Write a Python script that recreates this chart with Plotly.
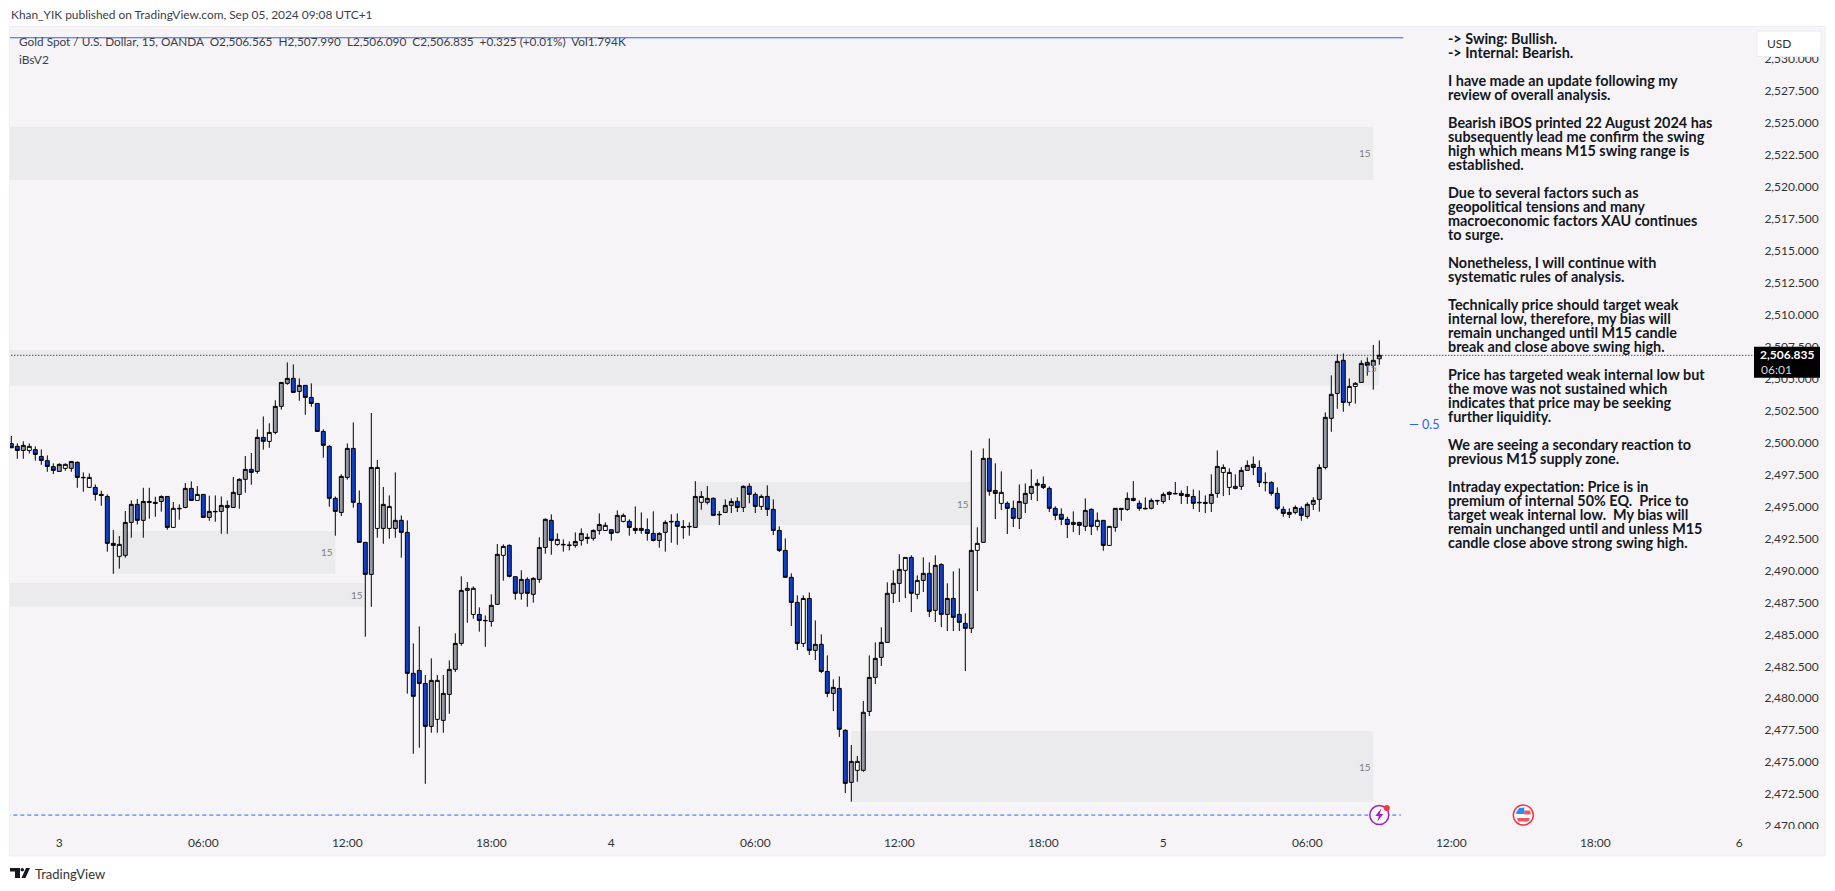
import plotly.graph_objs as go

# XAU/USD 15 min candles
highs = [
    2500.52,2499.94,2500.10,2499.94,2499.71,2499.47,2499.00,2498.38,2498.38,2498.38,
    2498.56,2498.53,2497.67,2497.59,2496.73,2496.24,2495.95,2493.16,2492.69,2494.65,
    2495.48,2495.59,2496.47,2496.47,2495.77,2495.87,2495.82,2495.35,2495.17,2496.84,
    2496.97,2496.60,2495.98,2495.85,2495.87,2495.79,2495.48,2497.31,2497.20,2498.95,
    2499.19,2501.04,2502.05,2501.51,2503.31,2504.71,2506.28,2506.12,2505.03,2504.48,
    2504.64,2503.07,2501.04,2499.79,2495.79,2497.52,2499.94,2501.58,2496.26,2492.20,
    2502.32,2498.64,2496.53,2495.87,2497.67,2494.31,2493.92,2484.29,2485.62,2481.82,
    2483.12,2481.82,2481.82,2482.96,2485.08,2489.54,2489.09,2488.75,2487.11,2486.48,
    2488.13,2492.07,2492.04,2492.04,2489.54,2490.01,2489.46,2489.46,2492.59,2494.07,
    2494.39,2492.90,2492.43,2492.27,2492.98,2493.29,2492.90,2493.21,2494.46,2493.76,
    2493.21,2494.70,2494.46,2494.00,2495.01,2494.54,2494.07,2494.62,2492.98,2493.92,
    2494.39,2494.46,2493.94,2493.76,2496.99,2496.21,2496.60,2495.72,2494.65,2495.56,
    2495.64,2495.72,2496.66,2496.81,2496.11,2495.95,2496.66,2495.56,2493.45,2492.51,
    2489.77,2488.05,2488.05,2488.28,2486.09,2485.00,2483.35,2481.48,2481.71,2477.57,
    2476.34,2475.48,2479.78,2483.35,2484.37,2485.55,2489.07,2490.01,2491.26,2491.02,
    2491.18,2489.61,2491.02,2490.63,2491.18,2490.55,2488.99,2489.93,2490.16,2486.64,
    2499.39,2493.37,2499.55,2500.33,2498.38,2497.75,2495.40,2495.48,2496.73,2496.81,
    2497.91,2497.13,2497.36,2496.58,2495.01,2494.86,2494.20,2494.62,2493.81,2495.64,
    2494.86,2494.54,2493.92,2493.45,2494.86,2494.86,2496.11,2496.99,2495.48,2495.72,
    2495.64,2495.48,2496.11,2496.19,2496.92,2496.26,2496.60,2496.34,2496.26,2495.87,
    2497.52,2499.39,2498.30,2497.99,2497.52,2498.09,2498.61,2498.92,2498.61,2497.67,
    2496.97,2496.50,2495.01,2494.86,2495.09,2495.01,2495.33,2495.72,2498.30,2502.37,
    2505.26,2506.91,2506.98,2505.03,2504.74,2506.44,2506.67,2507.64,2507.99,
]
body_tops = [
    2499.92,2499.71,2499.79,2499.71,2499.45,2498.92,2498.59,2498.12,2498.30,2498.30,
    2498.53,2498.46,2497.28,2497.28,2496.50,2495.95,2495.79,2492.12,2492.04,2493.76,
    2495.17,2495.17,2495.40,2495.40,2495.33,2495.79,2495.79,2494.86,2494.86,2496.42,
    2496.42,2495.95,2495.95,2494.62,2494.62,2495.09,2495.09,2496.11,2497.13,2497.91,
    2497.91,2500.41,2500.41,2500.80,2502.84,2504.71,2505.03,2505.03,2504.48,2504.48,
    2503.54,2503.07,2500.88,2499.71,2495.64,2497.36,2499.55,2499.55,2495.25,2492.20,
    2498.06,2498.06,2495.17,2495.01,2493.92,2493.92,2492.98,2481.95,2482.18,2481.16,
    2481.40,2481.40,2480.38,2482.26,2484.29,2488.44,2488.60,2488.60,2486.56,2486.09,
    2487.27,2491.26,2491.88,2491.96,2489.51,2489.30,2489.30,2489.38,2491.80,2494.00,
    2493.92,2492.43,2492.04,2491.99,2492.27,2492.90,2492.59,2493.13,2493.60,2493.53,
    2493.19,2494.31,2494.31,2493.84,2493.29,2493.29,2493.19,2492.90,2492.90,2493.76,
    2493.84,2493.84,2493.42,2493.45,2495.79,2495.79,2495.64,2495.64,2494.39,2495.09,
    2495.40,2495.40,2496.58,2496.58,2495.95,2495.79,2495.79,2494.78,2493.13,2491.57,
    2489.46,2487.50,2487.81,2487.81,2484.22,2484.22,2482.10,2480.85,2480.77,2477.49,
    2475.06,2475.06,2478.90,2481.63,2483.12,2484.37,2488.21,2488.99,2490.08,2491.02,
    2491.02,2489.22,2489.77,2489.77,2490.40,2490.47,2487.81,2487.81,2486.56,2485.86,
    2491.57,2492.12,2498.77,2498.77,2496.26,2496.11,2495.25,2494.86,2495.40,2496.03,
    2496.58,2496.81,2496.73,2496.42,2494.86,2494.39,2494.00,2493.76,2493.76,2494.70,
    2494.78,2493.92,2493.92,2493.45,2494.86,2494.86,2495.64,2495.64,2495.25,2494.86,
    2495.48,2495.48,2495.95,2496.11,2496.03,2496.03,2495.95,2495.79,2495.33,2495.33,
    2495.95,2498.14,2498.06,2497.67,2496.58,2497.83,2498.22,2498.30,2498.06,2496.89,
    2496.89,2496.03,2494.78,2494.54,2494.93,2494.86,2495.17,2495.48,2498.06,2501.98,
    2503.78,2506.36,2506.44,2504.40,2504.64,2506.20,2506.28,2506.44,2506.835,
]
body_bottoms = [
    2499.60,2499.39,2499.39,2499.39,2499.08,2498.61,2498.14,2497.83,2497.75,2497.99,
    2497.99,2497.28,2497.26,2496.50,2495.95,2495.87,2492.12,2491.96,2491.10,2491.18,
    2493.76,2493.92,2493.92,2495.33,2495.25,2495.40,2493.37,2493.37,2494.83,2494.93,
    2495.48,2495.48,2494.15,2494.15,2494.60,2494.62,2494.93,2494.93,2495.95,2497.13,
    2497.67,2497.75,2500.10,2500.10,2500.80,2502.84,2504.64,2503.93,2504.01,2503.54,
    2503.07,2500.88,2499.79,2495.64,2494.62,2494.54,2497.28,2495.33,2492.20,2489.69,
    2489.69,2493.29,2493.29,2493.29,2493.29,2492.98,2481.95,2480.15,2481.16,2477.80,
    2477.80,2478.35,2478.27,2480.30,2482.26,2484.29,2488.44,2486.56,2486.09,2486.07,
    2486.01,2487.35,2491.18,2489.54,2488.21,2488.21,2488.21,2488.13,2489.30,2491.80,
    2492.35,2492.04,2492.01,2491.96,2491.96,2492.35,2492.51,2492.51,2493.13,2493.13,
    2492.90,2492.98,2493.84,2493.37,2493.13,2493.13,2492.90,2492.35,2492.35,2492.98,
    2493.81,2493.45,2493.37,2493.42,2493.37,2495.33,2495.33,2494.31,2494.36,2494.54,
    2495.09,2494.93,2494.93,2495.95,2495.01,2495.01,2494.78,2493.13,2491.57,2489.46,
    2487.50,2484.29,2484.29,2483.75,2483.75,2482.10,2480.38,2480.38,2477.57,2473.34,
    2473.42,2474.36,2474.36,2478.97,2481.63,2483.20,2484.37,2488.21,2488.99,2490.01,
    2488.21,2488.13,2489.22,2486.80,2486.88,2486.56,2486.56,2486.33,2485.94,2485.47,
    2485.47,2491.57,2492.20,2496.19,2496.03,2495.25,2494.86,2494.07,2494.07,2495.25,
    2496.03,2496.66,2496.50,2494.86,2494.31,2494.00,2493.60,2493.60,2493.53,2493.45,
    2493.45,2493.45,2491.96,2491.96,2493.37,2494.78,2494.78,2495.48,2494.86,2494.83,
    2494.86,2495.45,2495.40,2495.95,2496.00,2495.87,2495.79,2495.25,2495.30,2495.25,
    2495.25,2496.03,2497.67,2496.50,2496.42,2496.58,2497.83,2498.06,2496.89,2496.87,
    2496.03,2494.86,2494.46,2494.39,2494.54,2494.31,2494.23,2495.17,2495.56,2498.06,
    2501.90,2503.85,2503.15,2503.15,2504.40,2504.71,2506.04,2506.04,2506.565,
]
lows = [
    2499.60,2498.74,2498.74,2499.16,2498.59,2498.27,2497.72,2497.54,2497.72,2497.80,
    2497.72,2496.47,2496.16,2496.47,2495.46,2495.06,2491.47,2489.74,2490.14,2491.00,
    2492.56,2493.60,2492.56,2494.05,2494.20,2494.60,2493.19,2493.34,2493.97,2494.86,
    2495.46,2495.46,2494.13,2493.89,2493.81,2492.87,2492.87,2494.91,2494.83,2496.08,
    2496.71,2497.57,2499.45,2499.60,2500.65,2502.58,2504.53,2503.93,2503.28,2502.18,
    2502.81,2500.85,2498.82,2494.99,2492.72,2494.26,2497.10,2494.91,2492.20,2484.82,
    2487.16,2492.56,2492.09,2492.48,2492.56,2491.00,2480.36,2475.66,2476.13,2473.31,
    2477.30,2477.30,2477.30,2478.79,2482.05,2484.11,2485.91,2486.22,2485.21,2484.03,
    2485.60,2487.32,2489.20,2489.46,2487.71,2487.71,2487.16,2487.48,2489.04,2491.31,
    2491.23,2491.94,2491.47,2491.57,2491.78,2491.94,2492.09,2492.33,2492.80,2493.11,
    2492.33,2492.90,2493.76,2492.72,2492.87,2492.87,2492.33,2492.27,2491.78,2491.47,
    2492.17,2492.01,2492.48,2492.72,2493.35,2494.75,2495.17,2494.28,2493.55,2494.52,
    2494.49,2494.57,2494.57,2495.25,2494.49,2494.73,2494.26,2492.77,2491.44,2489.46,
    2485.65,2483.77,2484.01,2483.38,2482.99,2481.97,2480.09,2479.00,2476.97,2472.58,
    2471.91,2473.47,2474.25,2478.61,2481.11,2482.52,2484.35,2487.45,2487.53,2487.84,
    2486.75,2487.76,2488.31,2486.35,2485.96,2485.57,2485.26,2485.26,2485.26,2482.13,
    2485.10,2488.39,2492.17,2495.85,2494.02,2494.73,2492.85,2493.40,2493.24,2494.49,
    2495.51,2495.43,2496.37,2494.57,2493.94,2493.55,2492.53,2493.00,2492.77,2493.08,
    2492.77,2493.13,2491.54,2491.94,2493.03,2493.89,2494.67,2495.40,2494.67,2494.78,
    2494.78,2495.12,2495.22,2495.51,2496.00,2495.20,2495.20,2494.80,2494.57,2494.49,
    2494.57,2495.69,2495.82,2495.90,2496.34,2496.29,2497.80,2497.46,2496.53,2496.19,
    2495.85,2494.70,2494.20,2494.10,2494.39,2493.89,2494.05,2494.73,2494.60,2497.91,
    2500.85,2502.65,2502.42,2502.89,2503.05,2504.69,2505.24,2504.14,2506.09,
]
# u = grey up bar, d = blue down bar, w = white bar
kinds = (
    "dduwdddduw" "uddwddddwu" "ududdudwdu" "dwduduwuuu" "dudwuuudud"
    "ddddduuddd" "uwuwuddddd" "uwuuuuwwdd" "uuwdduduuu" "dwdduuduuw"
    "duwddudduu" "dddduwuddu" "ududdwdddd" "ddwduddudd" "uwuuuuuuuw"
    "dwudududdd" "uwuddwdduu" "uudddddudu" "dwdwududdd" "ududdddddd"
    "uuwwwuuddd" "ddduuduuuu" "uudwwuduu"
)

tick_bars = [8, 32, 56, 80, 100, 124, 148, 172, 192, 216, 240, 264, 288]
tick_labels = ["3", "06:00", "12:00", "18:00", "4", "06:00", "12:00", "18:00", "5", "06:00", "12:00", "18:00", "6"]
price_ticks = [2470 + 2.5 * n for n in range(25)]

# supply/demand zones
zone_starts = [-2, -2, 17, -2, 114, 140]
zone_ends = [227, 228, 54, 59, 160, 227]
zone_tops = [2524.72, 2507.25, 2493.08, 2489.01, 2496.92, 2477.43]
zone_bottoms = [2520.55, 2504.45, 2489.74, 2487.16, 2493.55, 2471.88]

last_price = 2506.835
top_line_price = 2531.68
low_line_price = 2470.86

note_lines = [
    "-> Swing: Bullish.", "-> Internal: Bearish.", "",
    "I have made an update following my", "review of overall analysis.", "",
    "Bearish iBOS printed 22 August 2024 has", "subsequently lead me confirm the swing",
    "high which means M15 swing range is", "established.", "",
    "Due to several factors such as", "geopolitical tensions and many",
    "macroeconomic factors XAU continues", "to surge.", "",
    "Nonetheless, I will continue with", "systematic rules of analysis.", "",
    "Technically price should target weak", "internal low, therefore, my bias will",
    "remain unchanged until M15 candle", "break and close above swing high.", "",
    "Price has targeted weak internal low but", "the move was not sustained which",
    "indicates that price may be seeking", "further liquidity.", "",
    "We are seeing a secondary reaction to", "previous M15 supply zone.", "",
    "Intraday expectation: Price is in", "premium of internal 50% EQ.  Price to",
    "target weak internal low.  My bias will", "remain unchanged until and unless M15",
    "candle close above strong swing high.",
]

W, H = 1835, 891
L, R, T, B = 10, 1755, 26, 829
BG = "#f6f4f6"
FONT = "Lato"


def px(x):
    return (x - L) / (R - L)


def py(y):
    return (B - y) / (B - T)


def label(x, y, text, size=12, color="#333333", anchor="left", weight=400, family=FONT):
    return dict(
        xref="paper", yref="paper", x=px(x), y=py(y), text=text, showarrow=False,
        xanchor=anchor, yanchor="middle", align=anchor, borderpad=0,
        font=dict(size=size, color=color, weight=weight, family=family),
    )


def page_rect(x0, y0, x1, y1, fill, line=None, layer="above"):
    return dict(
        type="rect", xref="paper", yref="paper", x0=px(x0), x1=px(x1), y0=py(y0), y1=py(y1),
        fillcolor=fill, line=dict(color=line or fill, width=1 if line else 0), layer=layer,
    )


def page_path(points, fill):
    # points are page pixels
    path = "M " + " L ".join(f"{px(x)},{py(y)}" for x, y in points) + " Z"
    return dict(type="path", xref="paper", yref="paper", path=path, fillcolor=fill, line=dict(width=0))


def pin_circle(bar, price, r, fill, line, width, dx=0, dy=0):
    return dict(
        type="circle", xref="x", yref="y", xsizemode="pixel", ysizemode="pixel",
        xanchor=bar, yanchor=price, x0=dx - r, x1=dx + r, y0=dy - r, y1=dy + r,
        fillcolor=fill, line=dict(color=line, width=width),
    )


def pin_path(bar, price, path, fill):
    return dict(
        type="path", xref="x", yref="y", xsizemode="pixel", ysizemode="pixel",
        xanchor=bar, yanchor=price, path=path, fillcolor=fill, line=dict(width=0),
    )


fig = go.Figure()

for kind, fill in [("u", "#9598a1"), ("d", "#0f3fc6"), ("w", "#ffffff")]:
    rows = [i for i, k in enumerate(kinds) if k == kind]
    bottoms = [body_bottoms[i] for i in rows]
    tops = [body_tops[i] for i in rows]
    side = dict(fillcolor=fill, line=dict(color="#000000", width=1))
    fig.add_trace(go.Candlestick(
        x=rows,
        open=tops if kind == "d" else bottoms,
        close=bottoms if kind == "d" else tops,
        high=[highs[i] for i in rows],
        low=[lows[i] for i in rows],
        increasing=side,
        decreasing=side,
        whiskerwidth=0,
        showlegend=False,
        hoverinfo="skip",
    ))

shapes = [page_rect(9.5, 26.5, 1825, 856, BG, "#eeeef3", "below")]
annotations = []

for x0, x1, top, bottom in zip(zone_starts, zone_ends, zone_tops, zone_bottoms):
    shapes.append(dict(
        type="rect", xref="x", yref="y", x0=x0 - 0.05, x1=x1, y0=bottom, y1=top,
        fillcolor="#ebebed", line=dict(width=0), layer="below",
    ))
    annotations.append(dict(
        xref="x", yref="y", x=x1 - 1.4, y=(top + bottom) / 2, text="15", showarrow=False,
        font=dict(size=10, color="#808080", family=FONT),
    ))

# price lines
shapes.append(dict(type="line", xref="x", yref="y", x0=-2, x1=232, y0=top_line_price, y1=top_line_price,
                   line=dict(color="#2962ff", width=1)))
shapes.append(dict(type="line", xref="x", yref="y", x0=-2, x1=231.6, y0=low_line_price, y1=low_line_price,
                   line=dict(color="#2962ff", width=1, dash="4px 3px")))
shapes.append(dict(type="line", xref="x", yref="y", x0=-2, x1=291, y0=last_price, y1=last_price,
                   line=dict(color="#000000", width=1, dash="1px 2px")))

# event pins on the low line
shapes.append(pin_circle(228, low_line_price, 9.5, BG, "#9c27b0", 1.5))
shapes.append(pin_path(228, low_line_price, "M 2,6.5 L -4,-1 L -0.5,-1 L -2,-6.5 L 4,1 L 0.5,1 Z", "#9c27b0"))
shapes.append(pin_circle(228, low_line_price, 3, "#f23645", "#f23645", 0, dx=7.5, dy=7))
shapes.append(pin_circle(252, low_line_price, 10, "#ffffff", "#f23645", 1.5))
shapes.append(pin_path(252, low_line_price, "M 1,4.5 L 7,4.5 L 7.5,0.5 L 1,0.5 Z", "#f7525f"))
shapes.append(pin_path(252, low_line_price, "M -6.5,-3 L 6.5,-3 L 5,-6.5 L -5,-6.5 Z", "#f7525f"))
shapes.append(pin_path(252, low_line_price, "M -7,1 L 1,1 L 1,7.5 L -4,7 L -7,3 Z", "#2a8ef0"))

# covers on the price scale
shapes.append(page_rect(1755, 829, 1824, 855, BG))
shapes.append(page_rect(1757, 31, 1821, 56.5, "#ffffff", "#eaeaf0"))
shapes.append(page_rect(1754, 346.7, 1820, 377.7, "#000000"))

# TradingView logo
shapes.append(page_path([(10, 868), (20, 868), (20, 878), (15, 878), (15, 871.5), (10, 871.5)], "#131722"))
shapes.append(dict(type="circle", xref="paper", yref="paper", x0=px(20.5), x1=px(24), y0=py(871.5), y1=py(868),
                   fillcolor="#131722", line=dict(width=0)))
shapes.append(page_path([(26, 868), (30, 868), (25.5, 878), (21.5, 878)], "#131722"))

annotations += [
    label(9.5, 15, "Khan_YIK published on TradingView.com, Sep 05, 2024 09:08 UTC+1", 11.9, "#3a3e4a"),
    label(18, 42, "Gold Spot / U.S. Dollar, 15, OANDA\u00a0\u00a0O2,506.565\u00a0\u00a0H2,507.990\u00a0\u00a0L2,506.090"
                  "\u00a0\u00a0C2,506.835\u00a0\u00a0+0.325 (+0.01%)\u00a0\u00a0Vol1.794K", 11.8, "#3a3e4a"),
    label(18, 59.3, "iBsV2", 12, "#3a3e4a"),
    label(1408, 424.7, "\u2014\u00a00.5", 12.5, "#2962ff"),
    label(1766, 44, "USD", 12, "#333333"),
    label(1787, 354.5, "2,506.835", 12, "#ffffff", "center", 700),
    label(1777, 369, "06:01", 12, "#d8d8d8", "center"),
    label(34, 874, "TradingView", 13, "#333333"),
]
for n, line in enumerate(note_lines):
    if line:
        annotations.append(label(1447.3, 38.3 + 14 * n, line.replace("  ", "\u00a0\u00a0"), 14.4, "#131722", weight=700))

layout = go.Layout(
    width=W,
    height=H,
    margin=dict(l=L, r=W - R, t=T, b=H - B, pad=0),
    paper_bgcolor="#ffffff",
    plot_bgcolor=BG,
    font=dict(family=FONT, size=12, color="#333333"),
    showlegend=False,
    boxmode="overlay",
    boxgap=0.35,
    boxgroupgap=0,
    xaxis=dict(
        range=[(L - 11.3) / 6, (R - 11.3) / 6],
        tickmode="array", tickvals=tick_bars, ticktext=tick_labels,
        showgrid=False, zeroline=False, showline=False, ticks="outside", ticklen=3, tickcolor=BG,
        rangeslider=dict(visible=False), tickfont=dict(size=12),
    ),
    yaxis=dict(
        side="right",
        range=[2469.77, 2532.6],
        tickmode="array", tickvals=price_ticks, tickformat=",.3f",
        showgrid=False, zeroline=False, showline=False, ticks="outside", ticklen=6, tickcolor=BG,
        tickfont=dict(size=12),
    ),
    shapes=shapes,
    annotations=annotations,
)
fig.update_layout(layout)

fig.write_html("out.html", config={"displayModeBar": False}, post_script="document.body.style.margin='0';")
